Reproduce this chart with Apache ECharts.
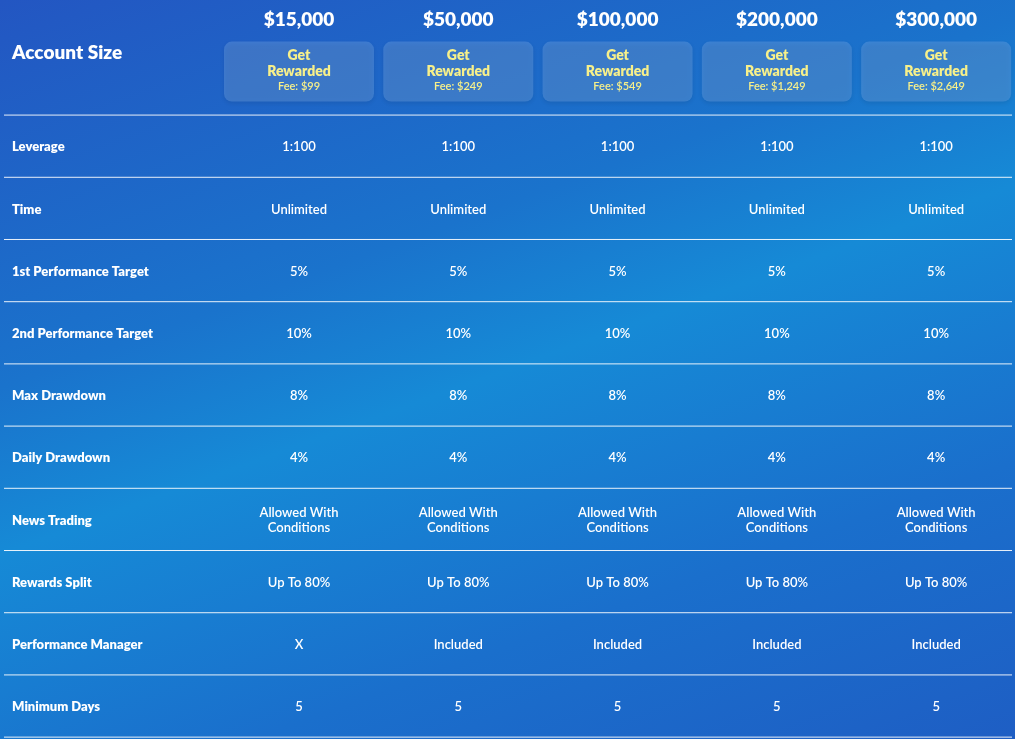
<!DOCTYPE html>
<html><head><meta charset="utf-8">
<script src="https://cdn.jsdelivr.net/npm/echarts@6/dist/echarts.min.js"></script>
<style>
html,body{margin:0;padding:0;}
#c{width:1015px;height:739px;background:linear-gradient(160deg,#2356c2 0%,#1a73cc 35%,#168ad6 50%,#1a6fcc 75%,#1e5ec4 100%);}
</style></head><body><div id="c"></div>
<script>
const accountSizes = ['$15,000','$50,000','$100,000','$200,000','$300,000'];
const fees = ['Fee: $99','Fee: $249','Fee: $549','Fee: $1,249','Fee: $2,649'];
const rowLabels = ['Leverage','Time','1st Performance Target','2nd Performance Target','Max Drawdown','Daily Drawdown','News Trading','Rewards Split','Performance Manager','Minimum Days'];
const leverage = ['1:100','1:100','1:100','1:100','1:100'];
const time = ['Unlimited','Unlimited','Unlimited','Unlimited','Unlimited'];
const target1 = ['5%','5%','5%','5%','5%'];
const target2 = ['10%','10%','10%','10%','10%'];
const maxDD = ['8%','8%','8%','8%','8%'];
const dailyDD = ['4%','4%','4%','4%','4%'];
const news = ['Allowed With\nConditions','Allowed With\nConditions','Allowed With\nConditions','Allowed With\nConditions','Allowed With\nConditions'];
const split = ['Up To 80%','Up To 80%','Up To 80%','Up To 80%','Up To 80%'];
const manager = ['X','Included','Included','Included','Included'];
const minDays = ['5','5','5','5','5'];
const rows = [leverage,time,target1,target2,maxDD,dailyDD,news,split,manager,minDays];

const FONT = 'Lato';
const cellData = [];
rows.forEach((r,ri)=>r.forEach((v,ci)=>cellData.push([ci,ri,v])));
const labelData = rowLabels.map((l,ri)=>[-1,ri,l]);
const headData = accountSizes.map((a,ci)=>[ci,-1.2,a,fees[ci]]);
const lineData = []; for(let i=0;i<=10;i++) lineData.push([0,i-0.5]);

const chart = echarts.init(document.getElementById('c'));
chart.setOption({
  backgroundColor:'transparent',
  grid:{left:0,right:0,top:0,bottom:0},
  xAxis:{type:'value',min:-1.877,max:4.495,show:false},
  yAxis:{type:'value',inverse:true,min:-2.35,max:9.53,show:false},
  series:[
    {type:'custom',data:lineData,renderItem:(p,api)=>{
      const y=api.coord([0,api.value(1)])[1];
      return {type:'line',shape:{x1:4,y1:y,x2:1012,y2:y},style:{stroke:'rgba(255,255,255,0.9)',lineWidth:1}};
    }},
    {type:'custom',data:cellData,renderItem:(p,api)=>{
      const c=api.coord([api.value(0),api.value(1)]);
      return {type:'text',x:c[0],y:c[1]+1,style:{text:cellData[p.dataIndex][2],fill:'#fff',font:'600 13px '+FONT,align:'center',verticalAlign:'middle',lineHeight:15}};
    }},
    {type:'custom',data:labelData,renderItem:(p,api)=>{
      const c=api.coord([0,api.value(1)]);
      return {type:'text',x:12,y:c[1]+1,style:{text:labelData[p.dataIndex][2],fill:'#fff',font:'800 13px '+FONT,align:'left',verticalAlign:'middle'}};
    }},
    {type:'custom',data:headData,renderItem:(p,api)=>{
      const c=api.coord([api.value(0),api.value(1)]);
      const d=headData[p.dataIndex];
      return {type:'group',children:[
        {type:'text',x:c[0],y:c[1]-52,style:{text:d[2],fill:'#fff',font:'800 19px '+FONT,align:'center',verticalAlign:'middle'}},
        {type:'rect',shape:{x:c[0]-75,y:c[1]-30,width:150,height:60,r:8},style:{fill:'rgba(120,170,230,0.35)',shadowBlur:4,shadowColor:'rgba(0,0,0,0.25)',shadowOffsetY:2}},
        {type:'text',x:c[0],y:c[1]-16,style:{text:'Get',fill:'#f7f08a',font:'800 14px '+FONT,align:'center',verticalAlign:'middle'}},
        {type:'text',x:c[0],y:c[1],style:{text:'Rewarded',fill:'#f7f08a',font:'800 14px '+FONT,align:'center',verticalAlign:'middle'}},
        {type:'text',x:c[0],y:c[1]+15,style:{text:d[3],fill:'#f7f08a',font:'600 11px '+FONT,align:'center',verticalAlign:'middle'}}
      ]};
    }},
    {type:'custom',data:[[-1,-1.5]],renderItem:(p,api)=>{
      const c=api.coord([0,api.value(1)]);
      return {type:'text',x:12,y:c[1],style:{text:'Account Size',fill:'#fff',font:'800 19px '+FONT,align:'left',verticalAlign:'middle'}};
    }}
  ]
});
</script></body></html>
